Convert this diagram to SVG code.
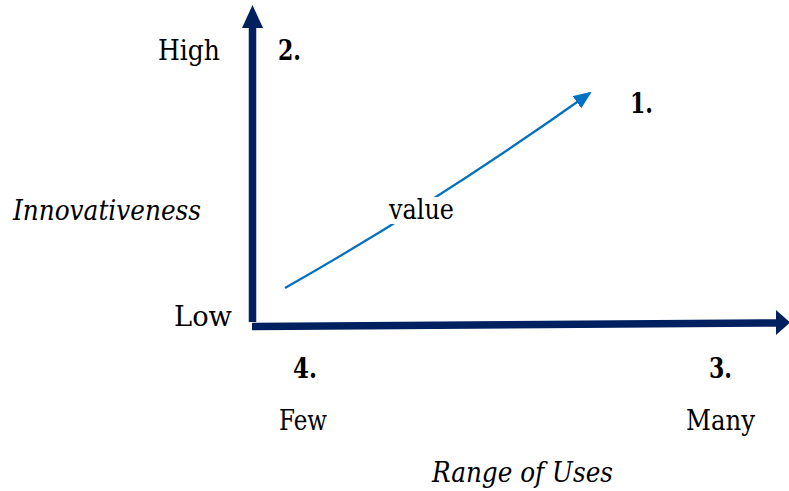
<svg xmlns="http://www.w3.org/2000/svg" width="789" height="491" viewBox="0 0 789 491">
<style>
.t{font-size:27px;fill:#000}
.i{font-style:italic}
.b{font-weight:bold}
.axis{stroke:#002060;stroke-width:7.5;fill:none}
.head{fill:#002060}
.val{stroke:#0070C0;stroke-width:2.2;fill:none}
</style>
<defs>
<marker id="vh" markerWidth="18" markerHeight="15" refX="16" refY="7.5" orient="auto" markerUnits="userSpaceOnUse" viewBox="0 0 18 15">
<path d="M0,0 L18,7.5 L0,15 Z" fill="#0070C0"/>
</marker>
</defs>
<g id="connectors">
<g id="y-axis">
<line class="axis" x1="252.5" y1="322" x2="252.5" y2="26"/>
<polygon class="head" points="252.5,5 263,28 242,28"/>
</g>
<g id="x-axis">
<line class="axis" x1="252" y1="326.5" x2="778" y2="323"/>
<polygon class="head" points="790,322.5 776,310 776,335"/>
</g>
<g id="value-arrow">
<path class="val" d="M285,288 Q435,203 590,93" marker-end="url(#vh)"/>
</g>
</g>
<g font-family="'DejaVu Serif', serif">
<g id="value-label">
<rect x="386" y="197" width="72" height="27" fill="#fff"/>
<text class="t" x="389" y="219" textLength="65" lengthAdjust="spacingAndGlyphs">value</text>
</g>
<g id="high"><text class="t" x="158" y="60" textLength="62" lengthAdjust="spacingAndGlyphs">High</text></g>
<g id="n2"><text class="t b" x="278" y="60" textLength="23" lengthAdjust="spacingAndGlyphs">2.</text></g>
<g id="n1"><text class="t b" x="630" y="113" textLength="23" lengthAdjust="spacingAndGlyphs">1.</text></g>
<g id="innov"><text class="t i" x="13" y="220" textLength="188" lengthAdjust="spacingAndGlyphs">Innovativeness</text></g>
<g id="low"><text class="t" x="174" y="326" textLength="58" lengthAdjust="spacingAndGlyphs">Low</text></g>
<g id="n4"><text class="t b" x="293" y="378" textLength="24" lengthAdjust="spacingAndGlyphs">4.</text></g>
<g id="n3"><text class="t b" x="709" y="378" textLength="23" lengthAdjust="spacingAndGlyphs">3.</text></g>
<g id="few"><text class="t" x="279" y="430" textLength="48" lengthAdjust="spacingAndGlyphs">Few</text></g>
<g id="many"><text class="t" x="686" y="430" textLength="69" lengthAdjust="spacingAndGlyphs">Many</text></g>
<g id="range"><text class="t i" x="432" y="482" textLength="181" lengthAdjust="spacingAndGlyphs">Range of Uses</text></g>
</g>
</svg>
